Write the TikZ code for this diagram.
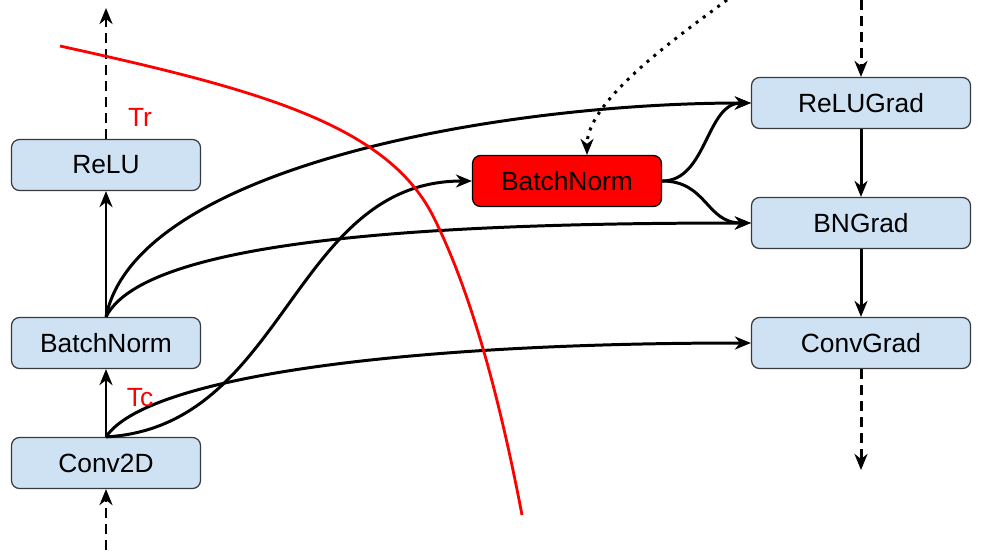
\documentclass[tikz,border=0pt]{standalone}
\usepackage{fontspec}
\setmainfont{Liberation Sans}
\usepackage{xcolor}
\usetikzlibrary{arrows.meta, positioning, calc}
\definecolor{boxblue}{HTML}{CFE2F3}
\definecolor{boxline}{HTML}{36393D}

\tikzset{
  opbox/.style={draw=boxline, line width=0.7pt, fill=boxblue, rounded corners=1.6mm,
    minimum width=3.78cm, minimum height=1.02cm, inner sep=0pt, font=\fontsize{15}{18}\selectfont},
  gradbox/.style={opbox, minimum width=4.38cm},
  flow/.style={line width=1.7pt, -{Stealth[length=3.2mm, width=2.6mm, inset=1mm]}},
  dashflow/.style={flow, dash pattern=on 5.7pt off 3.4pt},
  dotflow/.style={flow, dash pattern=on 1.7pt off 3.4pt},
  cutlabel/.style={red, font=\fontsize{15}{18}\selectfont},
}

\begin{document}
\begin{tikzpicture}[x=0.02cm, y=-0.02cm]
    \useasboundingbox (0,0) rectangle (983,558);

    % 前向算子
    \node[opbox] (relu) at (106,165) {ReLU};
    \node[opbox] (bnfwd) at (106,343) {BatchNorm};
    \node[opbox] (conv) at (106,463) {Conv2D};
    \node[opbox, fill=red, draw=black] (bnre) at (567,181) {BatchNorm};

    % 反向算子
    \node[gradbox] (relug) at (861,103) {ReLUGrad};
    \node[gradbox] (bng) at (861,223) {BNGrad};
    \node[gradbox] (convg) at (861,343) {ConvGrad};

    % 外部端点
    \coordinate (fwdout) at (106,8);
    \coordinate (fwdin) at (106,550);
    \coordinate (gradin) at (861,0);
    \coordinate (gradout) at (861,470);
    \coordinate (dotsrc) at (727,0);

    % 主干
    \draw[dashflow] (fwdin) -- (conv.south);
    \draw[flow] (conv.north) -- (bnfwd.south);
    \draw[flow] (bnfwd.north) -- (relu.south);
    \draw[dashflow] (relu.north) -- (fwdout);
    \draw[dashflow] (gradin) -- (relug.north);
    \draw[flow] (relug.south) -- (bng.north);
    \draw[flow] (bng.south) -- (convg.north);
    \draw[dashflow] (convg.south) -- (gradout);

    % 跨越连线
    \draw[flow] (bnfwd.north) .. controls +(30,-150) and +(-250,0) .. (relug.west);
    \draw[flow] (bnfwd.north) .. controls +(40,-80) and +(-300,0) .. (bng.west);
    \draw[flow] (conv.north) .. controls +(180,-10) and +(-180,0) .. (bnre.west);
    \draw[flow] (conv.north) .. controls +(40,-60) and +(-350,0) .. (convg.west);
    \draw[flow] (bnre.east) .. controls +(45,0) and +(-45,0) .. (relug.west);
    \draw[flow] (bnre.east) .. controls +(45,0) and +(-45,0) .. (bng.west);
    \draw[dotflow] (dotsrc) .. controls (680,35) and (587,100) .. ([xshift=0.4cm]bnre.north);

    % 切分线
    \draw[red, line width=1.6pt] (60,46) .. controls (260,90) and (390,125) .. (435,220)
        .. controls (472,295) and (500,400) .. (522,515);
    \node[cutlabel] (tr) at (140,117) {Tr};
    \node[cutlabel] (tc) at (140,398) {Tc};
\end{tikzpicture}
\end{document}
